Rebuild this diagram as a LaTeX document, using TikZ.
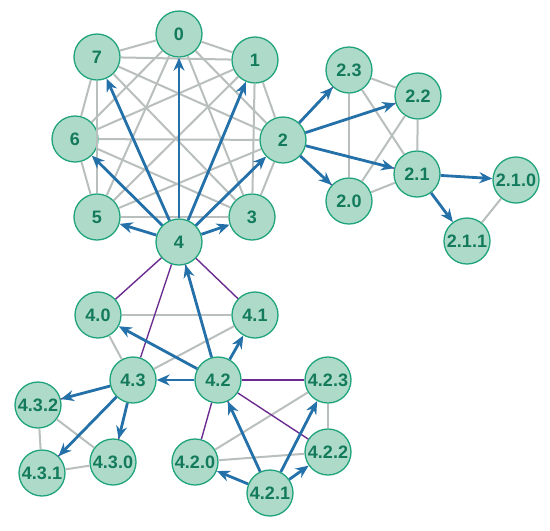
\documentclass[tikz,border=0pt]{standalone}
\usepackage{fontspec}
\setmainfont{Liberation Sans}
\usetikzlibrary{arrows.meta}
\definecolor{nfill}{HTML}{AEDBC9}
\definecolor{nborder}{HTML}{1FA37C}
\definecolor{ntext}{HTML}{137A5C}
\definecolor{eblue}{HTML}{2470A8}
\definecolor{egray}{HTML}{B8BFBD}
\definecolor{epurple}{HTML}{6B2C91}
\tikzset{
  vert/.style={circle, draw=nborder, fill=nfill, line width=1.3pt, minimum size=46pt, inner sep=0pt, text=ntext, font=\fontsize{18}{18}\selectfont\bfseries},
  gline/.style={draw=egray, line width=2pt},
  pline/.style={draw=epurple, line width=1.4pt},
  barrow/.style={draw=eblue, line width=2.8pt, -{Stealth[length=13pt,width=11pt]}},
}
\begin{document}
\begin{tikzpicture}[x=1pt,y=-1pt]
\useasboundingbox (0,0) rectangle (550,531);
% octagon
\node[vert] (n0) at (179,34) {0};
\node[vert] (n7) at (97,57) {7};
\node[vert] (n1) at (255,60) {1};
\node[vert] (n6) at (75,139) {6};
\node[vert] (n2) at (283,140) {2};
\node[vert] (n5) at (97,217) {5};
\node[vert] (n3) at (252,217) {3};
\node[vert] (n4) at (179,242) {4};
% cluster 2
\node[vert] (n23) at (349,70) {2.3};
\node[vert] (n22) at (418,96) {2.2};
\node[vert] (n21) at (417,174) {2.1};
\node[vert] (n20) at (349,201) {2.0};
\node[vert] (n210) at (516,180) {2.1.0};
\node[vert] (n211) at (467,241) {2.1.1};
% cluster 4
\node[vert] (n40) at (98,315) {4.0};
\node[vert] (n41) at (255,315) {4.1};
\node[vert] (n43) at (133,380) {4.3};
\node[vert] (n42) at (218,380) {4.2};
\node[vert] (n423) at (328,380) {4.2.3};
\node[vert] (n432) at (38,405) {4.3.2};
\node[vert] (n431) at (42,473) {4.3.1};
\node[vert] (n430) at (113,462) {4.3.0};
\node[vert] (n420) at (195,462) {4.2.0};
\node[vert] (n422) at (328,452) {4.2.2};
\node[vert] (n421) at (270,493) {4.2.1};
% gray edges
\foreach \a/\b in {n0/n1,n0/n2,n0/n3,n0/n5,n0/n6,n0/n7,
  n1/n2,n1/n3,n1/n5,n1/n6,n1/n7,
  n2/n3,n2/n5,n2/n6,n2/n7,
  n3/n5,n3/n6,n3/n7,
  n5/n6,n5/n7,n6/n7,
  n23/n22,n23/n20,n23/n21,n22/n20,n22/n21,n20/n21,n210/n211,
  n40/n41,n40/n43,n41/n43,
  n432/n431,n432/n430,n431/n430,
  n420/n423,n420/n422,n423/n422}
  \draw[gline] (\a) -- (\b);
% purple parent-child lines
\foreach \a/\b in {n2/n23,n2/n22,n2/n21,n2/n20,
  n4/n40,n4/n41,n4/n43,n4/n42,
  n43/n432,n43/n431,n43/n430,
  n42/n423,n42/n422,n42/n420,n42/n421}
  \draw[pline] (\a) -- (\b);
% blue arrows
\foreach \a/\b in {n4/n0,n4/n1,n4/n2,n4/n3,n4/n5,n4/n6,n4/n7,
  n2/n23,n2/n22,n2/n21,n2/n20,n21/n210,n21/n211,
  n42/n4,n42/n40,n42/n41,n42/n43,
  n43/n432,n43/n431,n43/n430,
  n421/n42,n421/n420,n421/n423,n421/n422}
  \draw[barrow] (\a) -- (\b);
\end{tikzpicture}
\end{document}
